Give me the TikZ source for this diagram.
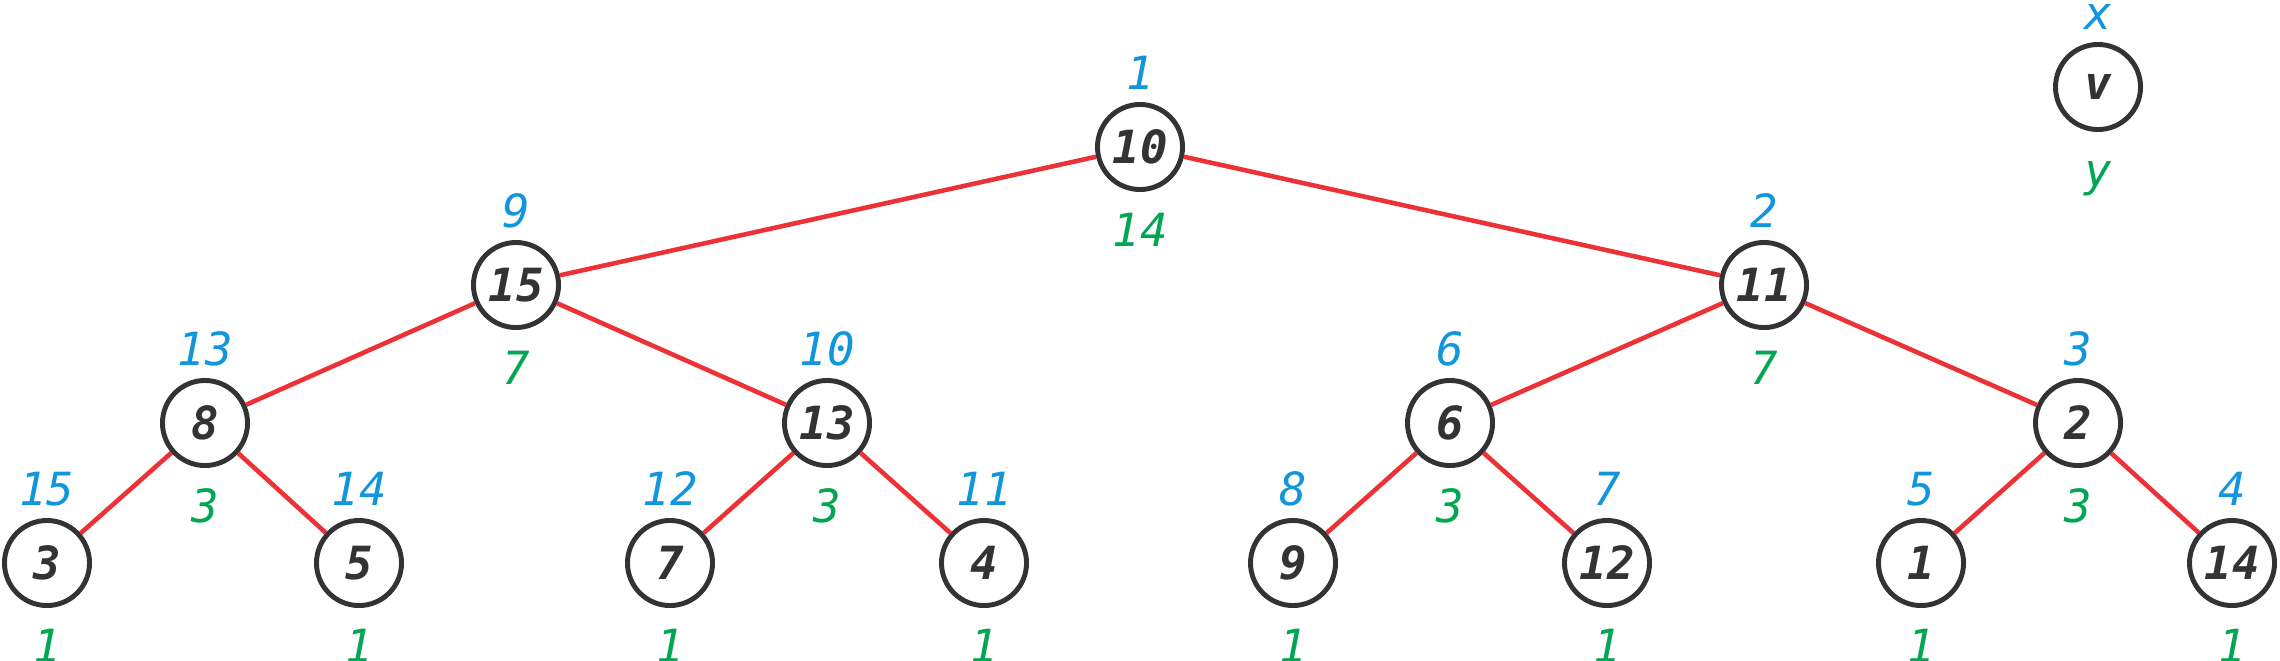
\documentclass[tikz,border=0pt]{standalone}
\usepackage{fontspec}
\newfontfamily\keyfont{DejaVu Sans Mono Bold Oblique}
\newfontfamily\labfont{DejaVu Sans Mono Oblique}
\definecolor{ink}{RGB}{51,51,51}
\definecolor{xblue}{RGB}{17,150,222}
\definecolor{ygreen}{RGB}{0,166,81}
\definecolor{edgered}{RGB}{237,50,55}
\tikzset{
  tnode/.style={circle, draw=ink, line width=1.4pt, fill=white, minimum size=0.85cm,
    inner sep=0pt, text=ink, font=\keyfont\fontsize{13}{15}\selectfont},
  xlab/.style={anchor=base, inner sep=0pt, text=xblue, font=\labfont\fontsize{13}{15}\selectfont},
  ylab/.style={anchor=base, inner sep=0pt, text=ygreen, font=\labfont\fontsize{13}{15}\selectfont},
  edge/.style={draw=edgered, line width=1.3pt}
}
\begin{document}
\begin{tikzpicture}[x=0.01cm, y=-0.01cm]
\useasboundingbox (0,0) rectangle (2280,660);
% treap: key in the circle, x above, y below
\foreach \n/\px/\py/\k/\a/\b in {
  r/1140/147/10/1/14, a/516/285/15/9/7, b/1764/285/11/2/7,
  aa/205/423/8/13/3, ab/827/423/13/10/3, ba/1450/423/6/6/3, bb/2078/423/2/3/3,
  aaa/47/563/3/15/1, aab/359/563/5/14/1, aba/670/563/7/12/1, abb/984/563/4/11/1,
  baa/1293/563/9/8/1, bab/1607/563/12/7/1, bba/1921/563/1/5/1, bbb/2232/563/14/4/1}
{
  \node[tnode] (\n) at (\px,\py) {\k};
  \node[xlab] (\n-x) at (\px,\py-57.5) {\a};
  \node[ylab] (\n-y) at (\px,\py+99.5) {\b};
}
\foreach \u/\w in {r/a, r/b, a/aa, a/ab, b/ba, b/bb, aa/aaa, aa/aab, ab/aba, ab/abb,
  ba/baa, ba/bab, bb/bba, bb/bbb}
  \draw[edge] (\u) -- (\w);

% legend
\node[tnode] (v) at (2098,87) {v};
\node[xlab] (v-x) at (2098,29.5) {x};
\node[ylab] (v-y) at (2098,186.5) {y};
\end{tikzpicture}
\end{document}
